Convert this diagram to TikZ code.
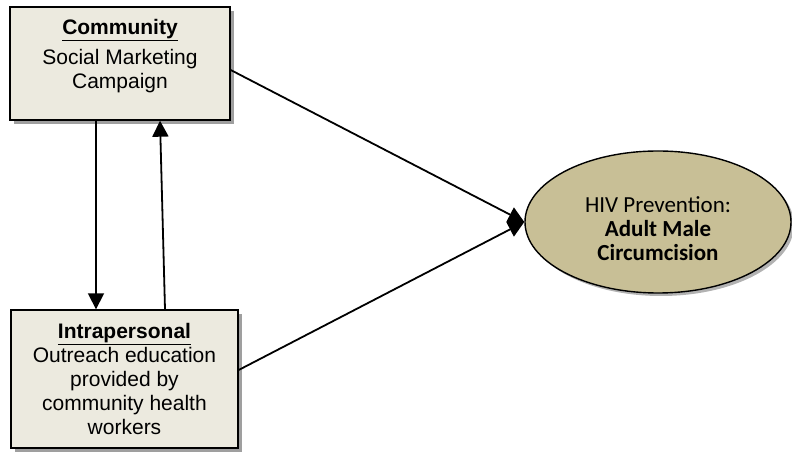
\documentclass[tikz,border=0pt]{standalone}
\usepackage{fontspec}
\setmainfont{Liberation Sans}
\newfontfamily\calibri{Carlito}
\usepackage{tikz}
\usetikzlibrary{positioning, arrows.meta, shapes.geometric, shadows}

\definecolor{boxfill}{RGB}{236,234,223}
\definecolor{ovalfill}{RGB}{200,191,150}

\begin{document}
\begin{tikzpicture}[
  x=1pt, y=1pt,
  font=\fontsize{21}{24}\selectfont,
  level/.style={rectangle, draw, line width=1.4pt, fill=boxfill, align=center, inner sep=0pt,
    drop shadow={shadow xshift=4pt, shadow yshift=-4pt, fill=gray!75, opacity=1}},
  goal/.style={ellipse, draw, line width=1.4pt, fill=ovalfill, align=center, inner sep=0pt,
    minimum width=266pt, minimum height=142pt, font=\calibri\fontsize{23}{24}\selectfont,
    drop shadow={shadow xshift=3pt, shadow yshift=-3pt, fill=gray!60, opacity=1}},
  arr/.style={-{Triangle[length=16pt, width=16pt]}, line width=1.8pt}
]
  \useasboundingbox (0,0) rectangle (792,452);

  \node[level, minimum width=220pt, minimum height=113pt] (comm) at (120,388.5)
    {\underline{\textbf{Community}}\\[6pt] Social Marketing\\ Campaign\rule[-19.5pt]{0pt}{0pt}};
  \node[level, minimum width=227pt, minimum height=138pt] (intra) at (124.5,73)
    {\underline{\textbf{Intrapersonal}}\\ Outreach education\\ provided by\\ community health\\ workers};
  \node[goal] (hiv) at (658,230) {\rule{0pt}{30pt}HIV Prevention:\\ \textbf{Adult Male}\\ \textbf{Circumcision}};

  \draw[arr] ([xshift=-24pt]comm.south) -- ([xshift=-28.5pt]intra.north);
  \draw[arr] ([xshift=40.5pt]intra.north) -- ([xshift=40pt]comm.south);
  \draw[arr] ([yshift=-6.5pt]comm.east) -- (hiv.west);
  \draw[arr] ([yshift=9pt]intra.east) -- (hiv.west);
\end{tikzpicture}
\end{document}
